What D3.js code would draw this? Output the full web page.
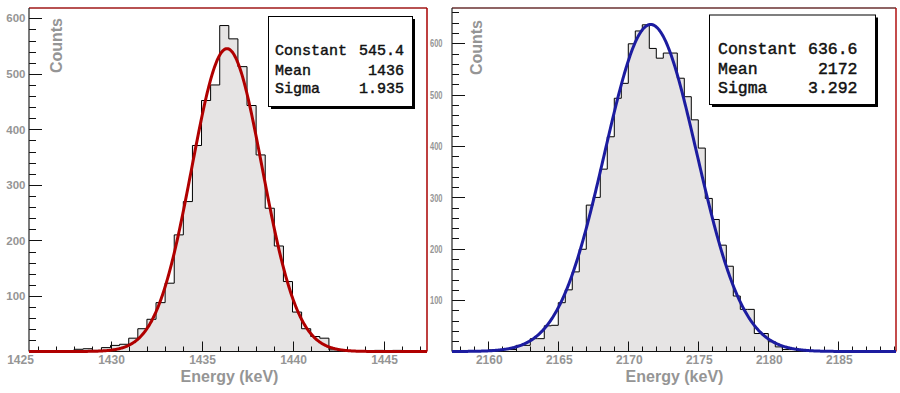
<!DOCTYPE html>
<html><head><meta charset="utf-8">
<script src="https://cdn.jsdelivr.net/npm/d3@7"></script>
<style>
html,body{margin:0;padding:0;background:#fff;}
svg{display:block;}
</style></head><body>
<svg id="c" width="900" height="393"></svg>
<script>
// ---------- data ----------
const binWidth = 0.5;
const leftFirstBin = 1426;
const leftCounts = [0,0,0,0,4,5,2,7,11,13,24,41,58,88,123,210,270,371,452,480,587,563,513,443,354,258,190,126,71,41,27,24,3,2,1,1,0,2,0,2,0,0];
const rightFirstBin = 2158;
const rightCounts = [2,2,1,1,3,3,4,4,12,12,25,25,50,51,95,120,155,199,285,300,355,418,493,522,599,624,636,590,571,581,581,532,496,451,396,298,257,207,166,108,82,82,35,35,19,9,4,4,2,2,1,0,0,0,0,0,0,0,0,0,0,0];
const leftFit = [545.4, 1436.4, 1.935];   // constant, mean, sigma
const rightFit = [636.6, 2171.6, 3.292];
const statNames = ["Constant", "Mean", "Sigma"];
const leftStatValues = ["545.4", "1436", "1.935"];
const rightStatValues = ["636.6", "2172", "3.292"];
const leftXTickLabels = [1425, 1430, 1435, 1440, 1445];
const rightXTickLabels = [2160, 2165, 2170, 2175, 2180, 2185];
const yTickLabels = [100, 200, 300, 400, 500, 600];
const xTitle = "Energy (keV)";
const yTitle = "Counts";

// ---------- layout ----------
const svg = d3.select("#c");
const gray = "#959595";
const panels = [
  {x0:29, x1:427, y0:8, y1:351.5, xd:[1425.52,1447.39], yd:[0,618.6],
   first:leftFirstBin, counts:leftCounts, fit:leftFit, col:"#b00000",
   xlabels:leftXTickLabels, minorX:[1426,1447], stats:leftStatValues,
   box:{x:268.5,y:16.5,w:144,h:90,fs:15,lx:275,vx:404,base:[55,75,93]},
   ylab:{x:25.5, fs:11.5, len:null}, ytitle:{x:62, y:18}, xtitleX:229.5,
   topCol:"#a01818", rightCol:"#a80000"},
  {x0:452, x1:896, y0:8, y1:351.5, xd:[2157.41,2189.12], yd:[0,668.7],
   first:rightFirstBin, counts:rightCounts, fit:rightFit, col:"#1c1ca0",
   xlabels:rightXTickLabels, minorX:[2158,2189], stats:rightStatValues,
   box:{x:709.5,y:15,w:166,h:89.5,fs:16.5,lx:718,vx:857.5,base:[53.5,73.5,93]},
   ylab:{x:442.5, fs:11.5, len:12.5}, ytitle:{x:481.5, y:20}, xtitleX:674.5,
   topCol:"#6a3030", rightCol:"#b01010"}
];

panels.forEach((p, pi) => {
  const x = d3.scaleLinear().domain(p.xd).range([p.x0, p.x1]);
  const y = d3.scaleLinear().domain(p.yd).range([p.y1, p.y0]);
  const g = svg.append("g");
  const clipId = "clip" + pi;
  svg.append("clipPath").attr("id", clipId).append("rect")
    .attr("x", p.x0).attr("y", p.y0).attr("width", p.x1 - p.x0).attr("height", p.y1 - p.y0 + 2);

  // histogram points
  const edges = p.counts.map((c, i) => p.first + i * binWidth);
  const end = p.first + p.counts.length * binWidth;
  const pts = [[p.first, 0]].concat(p.counts.map((c, i) => [edges[i], c]), [[end, p.counts[p.counts.length - 1]], [end, 0]]);

  const area = d3.area().curve(d3.curveStepAfter).x(d => x(d[0])).y0(y(0)).y1(d => y(d[1]));
  const line = d3.line().curve(d3.curveStepAfter).x(d => x(d[0])).y(d => y(d[1]));
  const hg = g.append("g").attr("clip-path", `url(#${clipId})`);
  hg.append("path").attr("d", area(pts)).attr("fill", "#e6e4e4");
  hg.append("path").attr("d", line(pts)).attr("fill", "none").attr("stroke", "#000").attr("stroke-width", 1);

  // frame
  g.append("line").attr("x1", p.x0).attr("x2", p.x1).attr("y1", p.y0).attr("y2", p.y0)
    .attr("stroke", p.topCol).attr("stroke-width", 1.5);
  g.append("line").attr("x1", p.x1).attr("x2", p.x1).attr("y1", p.y0).attr("y2", p.y1)
    .attr("stroke", p.rightCol).attr("stroke-width", 1.5);

  // y axis
  const yMinor = d3.range(20, p.yd[1], 20);
  yMinor.forEach(v => {
    const major = v % 100 === 0;
    g.append("line").attr("x1", p.x0).attr("x2", p.x0 + (major ? 13 : 7))
      .attr("y1", Math.round(y(v)) + 0.5).attr("y2", Math.round(y(v)) + 0.5)
      .attr("stroke", "#111").attr("stroke-width", 1);
  });
  g.append("line").attr("x1", p.x0).attr("x2", p.x0).attr("y1", p.y0).attr("y2", p.y1)
    .attr("stroke", "#222").attr("stroke-width", 1.2);
  yTickLabels.forEach(v => {
    const t = g.append("text").attr("x", p.ylab.x).attr("y", y(v)).attr("dy", "0.36em")
      .attr("text-anchor", "end").attr("font-family", "Liberation Sans, Arial, sans-serif")
      .attr("font-weight", "bold").attr("font-size", p.ylab.fs).attr("fill", gray).text(v);
    if (p.ylab.len) t.attr("textLength", p.ylab.len).attr("lengthAdjust", "spacingAndGlyphs");
  });

  // x axis
  d3.range(p.minorX[0], p.minorX[1] + 1, 1).forEach(v => {
    const major = v % 5 === 0;
    g.append("line").attr("x1", Math.round(x(v)) + 0.5).attr("x2", Math.round(x(v)) + 0.5)
      .attr("y1", p.y1).attr("y2", p.y1 - (major ? 10 : 5)).attr("stroke", "#111");
  });
  g.append("line").attr("x1", p.x0).attr("x2", p.x1).attr("y1", p.y1).attr("y2", p.y1)
    .attr("stroke", "#111").attr("stroke-width", 1.2);

  // fit curve from the fit parameters, drawn over the axis (as in ROOT)
  const [A, mu, s] = p.fit;
  const xs = d3.range(p.xd[0], p.xd[1] + 0.01, (p.xd[1] - p.xd[0]) / 600);
  const fline = d3.line().x(v => x(v)).y(v => y(A * Math.exp(-0.5 * ((v - mu) / s) ** 2)));
  g.append("path").attr("d", fline(xs)).attr("fill", "none").attr("stroke", p.col)
    .attr("stroke-width", 3).attr("clip-path", `url(#${clipId})`);

  p.xlabels.forEach(v => {
    g.append("text").attr("x", x(v) + 1).attr("y", 363.5).attr("text-anchor", "middle")
      .attr("font-family", "Liberation Sans, Arial, sans-serif").attr("font-weight", "bold")
      .attr("font-size", 12).attr("fill", gray).text(v);
  });

  // titles
  g.append("text").attr("x", p.xtitleX).attr("y", 382).attr("text-anchor", "middle")
    .attr("font-family", "Liberation Sans, Arial, sans-serif").attr("font-weight", "bold")
    .attr("font-size", 16).attr("fill", gray).text(xTitle);
  g.append("text").attr("transform", `translate(${p.ytitle.x},${p.ytitle.y}) rotate(-90)`)
    .attr("text-anchor", "end")
    .attr("font-family", "Liberation Sans, Arial, sans-serif").attr("font-weight", "bold")
    .attr("font-size", 16).attr("fill", gray).text(yTitle);

  // stats box
  const b = p.box;
  g.append("rect").attr("x", b.x + 2.5).attr("y", b.y + 2.5).attr("width", b.w).attr("height", b.h).attr("fill", "#000");
  g.append("rect").attr("x", b.x).attr("y", b.y).attr("width", b.w).attr("height", b.h)
    .attr("fill", "#fff").attr("stroke", "#000").attr("stroke-width", 1);
  statNames.forEach((n, i) => {
    [[b.lx, "start", n], [b.vx, "end", p.stats[i]]].forEach(([tx, anchor, str]) => {
      g.append("text").attr("x", tx).attr("y", b.base[i]).attr("text-anchor", anchor)
        .attr("font-family", "Liberation Mono, Courier New, monospace")
        .attr("font-size", b.fs).attr("fill", "#111")
        .attr("stroke", "#111").attr("stroke-width", 0.45).text(str);
    });
  });
});
</script>
</body></html>
